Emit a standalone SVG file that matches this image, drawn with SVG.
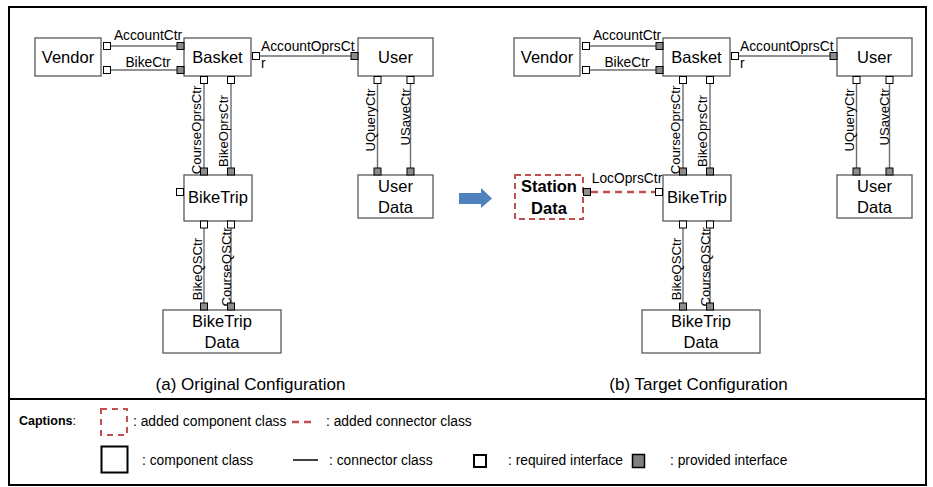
<svg xmlns="http://www.w3.org/2000/svg" width="933" height="487" viewBox="0 0 933 487">
<style>
text{font-family:"Liberation Sans",Arial,sans-serif;fill:#000}
.box{fill:#fff;stroke:#595959;stroke-width:1.3}
.name{font-size:16.5px;text-anchor:middle}
.lbl{font-size:13.8px}
.vl{font-size:13.2px;text-anchor:middle}
.req{fill:#fff;stroke:#000;stroke-width:1}
.prov{fill:#8c8c8c;stroke:#000;stroke-width:1}
.con{stroke:#6e6e6e;stroke-width:1.4;fill:none}
.add{fill:#fff;stroke:#c0504d;stroke-width:2;stroke-dasharray:6,4}
.addcon{stroke:#c0504d;stroke-width:2.5;stroke-dasharray:7,5;fill:none}
.leg{font-size:13.8px}
.cap{font-size:17px;text-anchor:middle}
</style>
<rect x="0" y="0" width="933" height="487" fill="#fff"/>
<rect x="9" y="7" width="917" height="478" fill="none" stroke="#000" stroke-width="2"/>
<line x1="9" y1="399" x2="926" y2="399" stroke="#000" stroke-width="2"/>

<!-- Panel (a) -->
<g id="connectors-a">
  <line class="con" x1="110.5" y1="46" x2="177" y2="46"/>
  <line class="con" x1="110.5" y1="70" x2="177" y2="70"/>
  <line class="con" x1="259.5" y1="56" x2="351" y2="56"/>
  <line class="con" x1="204" y1="83" x2="204" y2="168"/>
  <line class="con" x1="231" y1="83" x2="231" y2="168"/>
  <line class="con" x1="204" y1="228" x2="204" y2="303"/>
  <line class="con" x1="231" y1="228" x2="231" y2="303"/>
  <line class="con" x1="377.5" y1="83" x2="377.5" y2="168"/>
  <line class="con" x1="410.5" y1="83" x2="410.5" y2="168"/>
  <text class="lbl" x="148" y="40" text-anchor="middle">AccountCtr</text>
  <text class="lbl" x="148" y="67" text-anchor="middle">BikeCtr</text>
  <text class="lbl" x="261" y="51">AccountOprsCt</text>
  <text class="lbl" x="261" y="68">r</text>
  <text class="vl" transform="translate(201,130) rotate(-90)">CourseOprsCtr</text>
  <text class="vl" transform="translate(228,131) rotate(-90)">BikeOprsCtr</text>
  <text class="vl" transform="translate(375,120) rotate(-90)">UQueryCtr</text>
  <text class="vl" transform="translate(410,117) rotate(-90)">USaveCtr</text>
  <text class="vl" transform="translate(202,269) rotate(-90)">BikeQSCtr</text>
  <text class="vl" transform="translate(231,267) rotate(-90)">CourseQSCtr</text>
</g>
<g id="vendor-a">
  <rect class="box" x="35" y="38" width="66" height="38"/>
  <text class="name" x="68" y="63">Vendor</text>
  <rect class="req" x="103.5" y="42.5" width="7" height="7"/>
  <rect class="req" x="103.5" y="66.5" width="7" height="7"/>
</g>
<g id="basket-a">
  <rect class="box" x="184" y="38" width="67" height="38"/>
  <text class="name" x="217.5" y="63">Basket</text>
  <rect class="prov" x="177" y="42.5" width="7" height="7"/>
  <rect class="prov" x="177" y="66.5" width="7" height="7"/>
  <rect class="req" x="252.5" y="52.5" width="7" height="7"/>
  <rect class="req" x="200.5" y="76.5" width="7" height="7"/>
  <rect class="req" x="227.5" y="76.5" width="7" height="7"/>
</g>
<g id="user-a">
  <rect class="box" x="358" y="38" width="75" height="38"/>
  <text class="name" x="395.5" y="63">User</text>
  <rect class="prov" x="351" y="52.5" width="7" height="7"/>
  <rect class="req" x="374" y="76.5" width="7" height="7"/>
  <rect class="req" x="407" y="76.5" width="7" height="7"/>
</g>
<g id="biketrip-a">
  <rect class="box" x="184" y="175" width="68" height="46"/>
  <text class="name" x="218" y="203">BikeTrip</text>
  <rect class="prov" x="200.5" y="168" width="7" height="7"/>
  <rect class="prov" x="227.5" y="168" width="7" height="7"/>
  <rect class="req" x="176.5" y="188.5" width="7" height="7"/>
  <rect class="req" x="200.5" y="221" width="7" height="7"/>
  <rect class="req" x="227.5" y="221" width="7" height="7"/>
</g>
<g id="userdata-a">
  <rect class="box" x="358" y="175" width="75" height="43"/>
  <text class="name" x="395.5" y="192">User</text>
  <text class="name" x="395.5" y="213">Data</text>
  <rect class="prov" x="374" y="168" width="7" height="7"/>
  <rect class="prov" x="407" y="168" width="7" height="7"/>
</g>
<g id="biketripdata-a">
  <rect class="box" x="163" y="310" width="118" height="43"/>
  <text class="name" x="222" y="327">BikeTrip</text>
  <text class="name" x="222" y="348">Data</text>
  <rect class="prov" x="200.5" y="303" width="7" height="7"/>
  <rect class="prov" x="227.5" y="303" width="7" height="7"/>
</g>
<text class="cap" x="250.5" y="390">(a) Original Configuration</text>

<!-- Arrow -->
<g id="transition-arrow">
  <polygon points="459,193 481,193 481,188 492,198.5 481,208 481,204 459,204" fill="#4f81bd"/>
</g>

<!-- Panel (b) -->
<g id="connectors-b">
  <line class="con" x1="589.5" y1="46" x2="656" y2="46"/>
  <line class="con" x1="589.5" y1="70" x2="656" y2="70"/>
  <line class="con" x1="738.5" y1="56" x2="830" y2="56"/>
  <line class="con" x1="683" y1="83" x2="683" y2="168"/>
  <line class="con" x1="710" y1="83" x2="710" y2="168"/>
  <line class="con" x1="683" y1="228" x2="683" y2="303"/>
  <line class="con" x1="710" y1="228" x2="710" y2="303"/>
  <line class="con" x1="856.5" y1="83" x2="856.5" y2="168"/>
  <line class="con" x1="889.5" y1="83" x2="889.5" y2="168"/>
  <line class="addcon" x1="591" y1="192" x2="655" y2="192"/>
  <text class="lbl" x="627" y="40" text-anchor="middle">AccountCtr</text>
  <text class="lbl" x="627" y="67" text-anchor="middle">BikeCtr</text>
  <text class="lbl" x="740" y="51">AccountOprsCt</text>
  <text class="lbl" x="740" y="68">r</text>
  <text class="lbl" x="627" y="183" text-anchor="middle">LocOprsCtr</text>
  <text class="vl" transform="translate(680,130) rotate(-90)">CourseOprsCtr</text>
  <text class="vl" transform="translate(707,131) rotate(-90)">BikeOprsCtr</text>
  <text class="vl" transform="translate(854,120) rotate(-90)">UQueryCtr</text>
  <text class="vl" transform="translate(889,117) rotate(-90)">USaveCtr</text>
  <text class="vl" transform="translate(681,269) rotate(-90)">BikeQSCtr</text>
  <text class="vl" transform="translate(710,267) rotate(-90)">CourseQSCtr</text>
</g>
<g id="vendor-b">
  <rect class="box" x="514" y="38" width="66" height="38"/>
  <text class="name" x="547" y="63">Vendor</text>
  <rect class="req" x="582.5" y="42.5" width="7" height="7"/>
  <rect class="req" x="582.5" y="66.5" width="7" height="7"/>
</g>
<g id="basket-b">
  <rect class="box" x="663" y="38" width="67" height="38"/>
  <text class="name" x="696.5" y="63">Basket</text>
  <rect class="prov" x="656" y="42.5" width="7" height="7"/>
  <rect class="prov" x="656" y="66.5" width="7" height="7"/>
  <rect class="req" x="731.5" y="52.5" width="7" height="7"/>
  <rect class="req" x="679.5" y="76.5" width="7" height="7"/>
  <rect class="req" x="706.5" y="76.5" width="7" height="7"/>
</g>
<g id="user-b">
  <rect class="box" x="837" y="38" width="75" height="38"/>
  <text class="name" x="874.5" y="63">User</text>
  <rect class="prov" x="830" y="52.5" width="7" height="7"/>
  <rect class="req" x="853" y="76.5" width="7" height="7"/>
  <rect class="req" x="886" y="76.5" width="7" height="7"/>
</g>
<g id="stationdata-b">
  <rect class="add" x="515" y="175" width="68" height="44"/>
  <text class="name" x="549" y="192" font-weight="bold">Station</text>
  <text class="name" x="549" y="214" font-weight="bold">Data</text>
  <rect class="prov" x="583.5" y="188.5" width="7" height="7"/>
</g>
<g id="biketrip-b">
  <rect class="box" x="663" y="175" width="68" height="46"/>
  <text class="name" x="697" y="203">BikeTrip</text>
  <rect class="prov" x="679.5" y="168" width="7" height="7"/>
  <rect class="prov" x="706.5" y="168" width="7" height="7"/>
  <rect class="req" x="655.5" y="188.5" width="7" height="7"/>
  <rect class="req" x="679.5" y="221" width="7" height="7"/>
  <rect class="req" x="706.5" y="221" width="7" height="7"/>
</g>
<g id="userdata-b">
  <rect class="box" x="837" y="175" width="75" height="43"/>
  <text class="name" x="874.5" y="192">User</text>
  <text class="name" x="874.5" y="213">Data</text>
  <rect class="prov" x="853" y="168" width="7" height="7"/>
  <rect class="prov" x="886" y="168" width="7" height="7"/>
</g>
<g id="biketripdata-b">
  <rect class="box" x="642" y="310" width="118" height="43"/>
  <text class="name" x="701" y="327">BikeTrip</text>
  <text class="name" x="701" y="348">Data</text>
  <rect class="prov" x="679.5" y="303" width="7" height="7"/>
  <rect class="prov" x="706.5" y="303" width="7" height="7"/>
</g>
<text class="cap" x="698.5" y="390">(b) Target Configuration</text>

<!-- Legend -->
<g id="legend">
  <text x="19" y="425" font-size="12.5px" font-weight="bold">Captions<tspan font-weight="normal">:</tspan></text>
  <rect x="101" y="409" width="26" height="26" fill="none" stroke="#c0504d" stroke-width="2" stroke-dasharray="6,5"/>
  <text class="leg" x="133" y="426">: added component class</text>
  <line x1="292" y1="422" x2="314" y2="422" stroke="#c0504d" stroke-width="2.5" stroke-dasharray="7,5"/>
  <text class="leg" x="326" y="426">: added connector class</text>
  <rect x="101.5" y="446.5" width="26" height="26" fill="none" stroke="#000" stroke-width="2"/>
  <text class="leg" x="142" y="464.5">: component class</text>
  <line x1="293" y1="460" x2="318" y2="460" stroke="#000" stroke-width="1.5"/>
  <text class="leg" x="329" y="464.5">: connector class</text>
  <rect x="474" y="455" width="12" height="12" fill="#fff" stroke="#000" stroke-width="2"/>
  <text class="leg" x="508" y="464.5">: required interface</text>
  <rect x="632.5" y="454.5" width="12" height="13" fill="#808080" stroke="#000" stroke-width="1.5"/>
  <text class="leg" x="670" y="464.5">: provided interface</text>
</g>
</svg>
